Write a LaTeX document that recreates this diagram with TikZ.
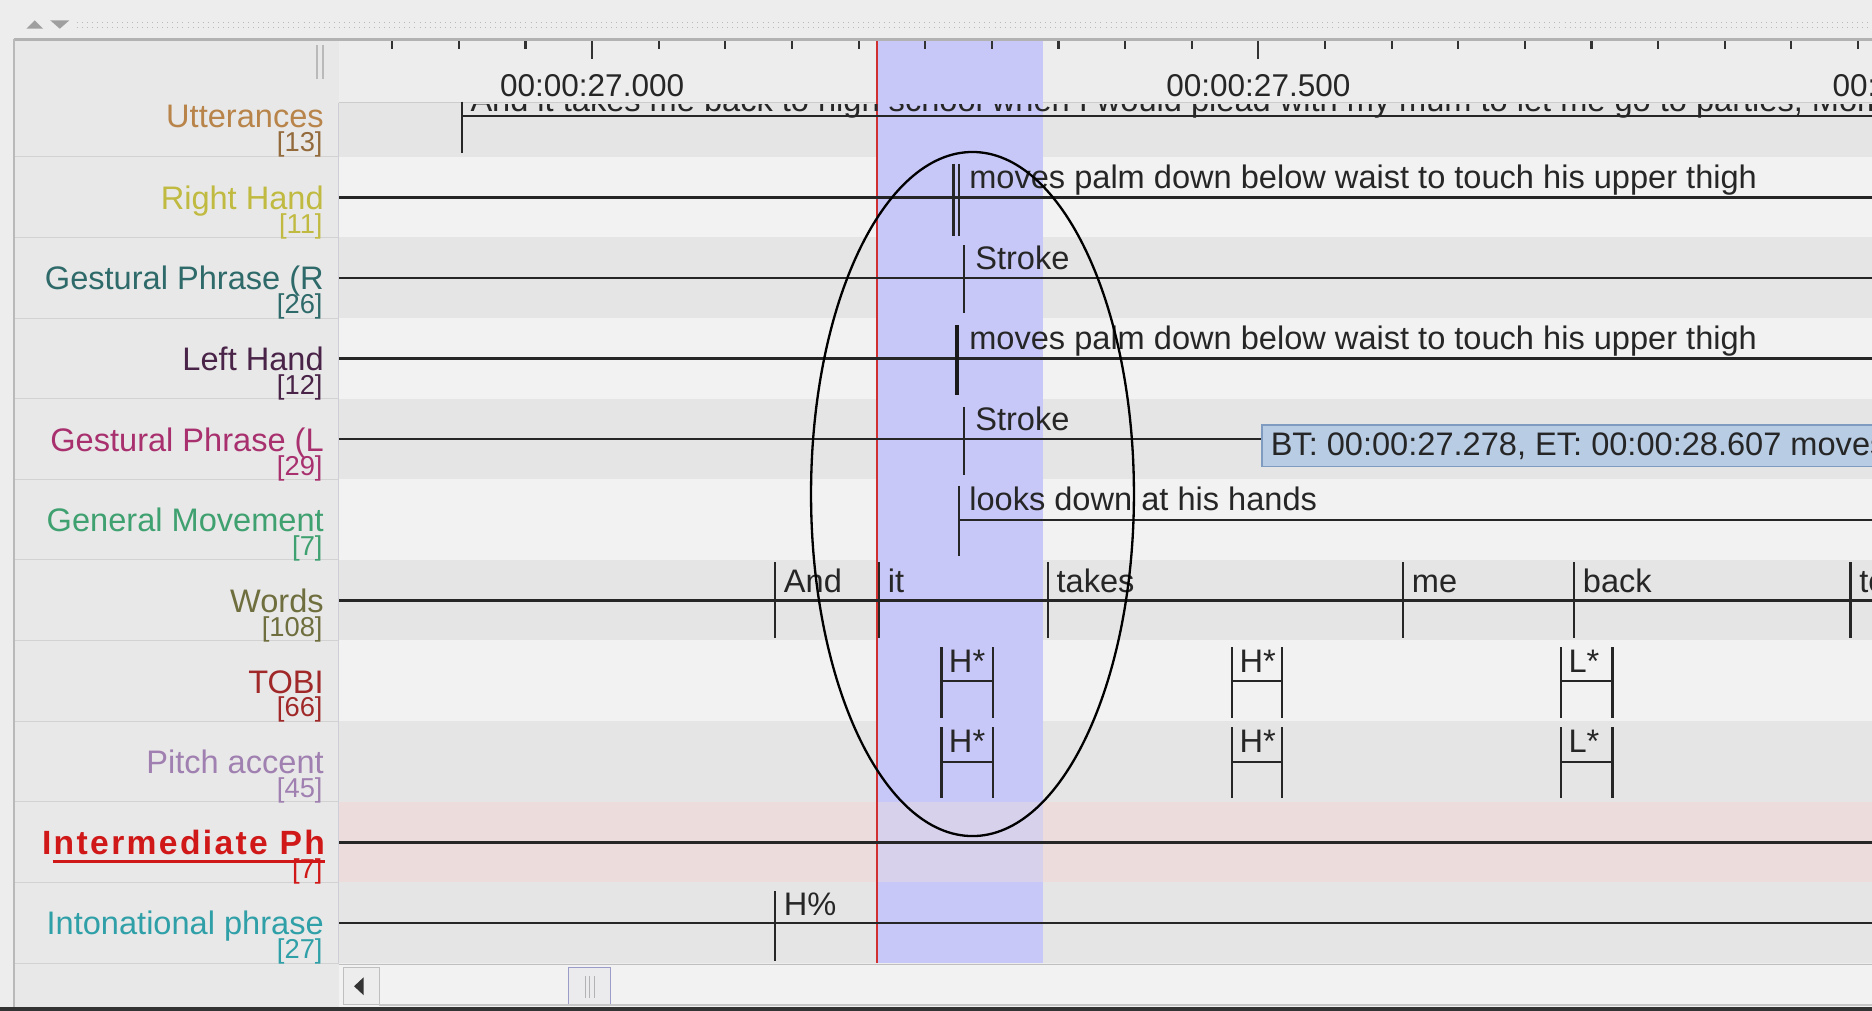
\documentclass[tikz,border=0pt]{standalone}
\usepackage{fontspec}
\setmainfont{Liberation Sans}
\definecolor{winbg}{HTML}{EDEDED}
\definecolor{panelbg}{HTML}{E8E8E8}
\definecolor{rowA}{HTML}{F2F2F2}
\definecolor{rowB}{HTML}{E5E5E5}
\definecolor{rowpink}{HTML}{ECDCDC}
\definecolor{selblue}{HTML}{C8C8F8}
\definecolor{crossred}{HTML}{D03030}
\definecolor{tipfill}{HTML}{B8CCE4}
\definecolor{tipline}{HTML}{7F9CC0}
\definecolor{uttcol}{HTML}{B8844A}
\definecolor{rhcol}{HTML}{C0BA40}
\definecolor{grcol}{HTML}{2F6A6A}
\definecolor{lhcol}{HTML}{4A2448}
\definecolor{glcol}{HTML}{A8306E}
\definecolor{gmcol}{HTML}{3FA070}
\definecolor{wdcol}{HTML}{6E6E3E}
\definecolor{tbcol}{HTML}{A02828}
\definecolor{pacol}{HTML}{A080B0}
\definecolor{ipcol}{HTML}{D01818}
\definecolor{incol}{HTML}{30A0A8}
\begin{document}
\begin{tikzpicture}[x=0.02cm,y=-0.02cm,
  tier/.style={line width=1.1pt, black!85},
  bound/.style={line width=1.1pt, black!85},
  anno/.style={anchor=base west, inner sep=0pt, font=\fontsize{15.5}{18}\selectfont, text=black!85},
  tiername/.style={anchor=base east, inner sep=0pt, font=\fontsize{15.5}{18}\selectfont},
  tiercount/.style={anchor=base east, inner sep=0pt, font=\fontsize{13}{15}\selectfont},
  timelabel/.style={anchor=base, inner sep=0pt, font=\fontsize{15}{17}\selectfont, text=black!85}]
\useasboundingbox (0,0) rectangle (1565,844.4);
\clip (0,0) rectangle (1565,844.4);
\fill [winbg] (0,0) rectangle (1565,844.4);
% top strip
\fill [gray!75] (22,24) -- (29,17) -- (36,24) -- cycle;
\fill [gray!75] (42,17) -- (58,17) -- (50,24) -- cycle;
\draw [gray!55, dotted] (64,19) -- (1565,19);
\draw [gray!55, dotted] (64,23) -- (1565,23);
% ruler and rows
\fill [winbg] (283,33) rectangle (1565,86);
\fill [rowB] (283,86) rectangle (1565,131);
\fill [rowA] (283,131) rectangle (1565,198.4);
\fill [rowB] (283,198.4) rectangle (1565,265.8);
\fill [rowA] (283,265.8) rectangle (1565,333.2);
\fill [rowB] (283,333.2) rectangle (1565,400.6);
\fill [rowA] (283,400.6) rectangle (1565,468);
\fill [rowB] (283,468) rectangle (1565,535.4);
\fill [rowA] (283,535.4) rectangle (1565,602.8);
\fill [rowB] (283,602.8) rectangle (1565,670.2);
\fill [rowpink] (283,670.2) rectangle (1565,737.6);
\fill [rowB] (283,737.6) rectangle (1565,805);
\draw [gray!40] (283,86) -- (1565,86);
% selection and crosshair
\fill [selblue] (734,33) rectangle (872,805);
\fill [rowpink, fill opacity=0.45] (734,670.2) rectangle (872,737.6);
\draw [crossred, line width=1pt] (733,33) -- (733,805);
% time ruler
\foreach \k in {0,...,22}
  \draw [black!80, line width=1pt] (327.9+55.7*\k,34) -- (327.9+55.7*\k,41);
\draw [black!80, line width=1pt] (495,34) -- (495,49);
\draw [black!80, line width=1pt] (1052,34) -- (1052,49);
\node [timelabel] (t27) at (495,81) {00:00:27.000};
\node [timelabel] (t275) at (1052,81) {00:00:27.500};
\node [timelabel] (t28) at (1609,81) {00:00:28.000};
% Utterances
\begin{scope}
\clip (283,87) rectangle (1565,131);
\node [anno] (utt) at (393,93) {And it takes me back to high school when I would plead with my mum to let me go to parties, Mom};
\end{scope}
\draw [tier] (386,97) -- (1565,97);
\draw [bound] (386,85) -- (386,128);
% Right Hand
\draw [tier] (283,165) -- (1565,165);
\draw [bound] (797,137) -- (797,197);
\draw [bound] (802,137) -- (802,197);
\node [anno] (rh) at (810,158) {moves palm down below waist to touch his upper thigh};
% Gestural Phrase (R
\draw [tier] (283,232.4) -- (1565,232.4);
\draw [bound] (806,205) -- (806,262);
\node [anno] (grs) at (815,225) {Stroke};
% Left Hand
\draw [tier] (283,299.8) -- (1565,299.8);
\draw [black!90, line width=2.2pt] (800,272) -- (800,330);
\node [anno] (lh) at (810,292) {moves palm down below waist to touch his upper thigh};
% Gestural Phrase (L
\draw [tier] (283,367.2) -- (1055,367.2);
\draw [bound] (806,340) -- (806,397);
\node [anno] (gls) at (815,360) {Stroke};
% General Movement
\draw [tier] (802,434.6) -- (1565,434.6);
\draw [bound] (802,406) -- (802,465);
\node [anno] (gm) at (810,427) {looks down at his hands};
% Words
\draw [tier] (283,502) -- (1565,502);
\foreach \x/\w [count=\n] in {648/And, 735/it, 876/takes, 1173/me, 1316/back, 1547/to} {
  \draw [bound] (\x,470) -- (\x,533);
  \node [anno] (word\n) at (\x+7,495) {\w};
}
% TOBI and Pitch accent
\foreach \xa/\xb/\lab [count=\n] in {787/830/H*, 1030/1072/H*, 1305/1348/L*} {
  \draw [bound] (\xa,541) -- (\xa,600);
  \draw [bound] (\xb,541) -- (\xb,600);
  \draw [bound] (\xa,569.4) -- (\xb,569.4);
  \node [anno] (tobi\n) at (\xa+6,562) {\lab};
  \draw [bound] (\xa,608) -- (\xa,667);
  \draw [bound] (\xb,608) -- (\xb,667);
  \draw [bound] (\xa,636.8) -- (\xb,636.8);
  \node [anno] (pitch\n) at (\xa+6,629) {\lab};
}
% Intermediate Ph
\draw [tier] (283,704.2) -- (1565,704.2);
% Intonational phrase
\draw [tier] (283,771.6) -- (1565,771.6);
\draw [bound] (648,745) -- (648,803);
\node [anno] (inp) at (655,765) {H\%};
% label panel
\fill [panelbg] (12,33) rectangle (283,843);
\foreach \y in {131,198.4,265.8,333.2,400.6,468,535.4,602.8,670.2,737.6,805}
  \draw [gray!35] (12,\y) -- (283,\y);
\draw [blue!10!gray!35] (283,86) -- (283,805);
\draw [gray!55, line width=0.8pt] (265,38) -- (265,66);
\draw [gray!55, line width=0.8pt] (270,38) -- (270,66);
\node [tiername, text=uttcol] (lutt) at (271,107) {Utterances};
\node [tiercount, text=uttcol!80!black] (cutt) at (270,127) {[13]};
\node [tiername, text=rhcol] (lrh) at (271,175) {Right Hand};
\node [tiercount, text=rhcol] (crh) at (270,195) {[11]};
\node [tiername, text=grcol] (lgr) at (271,242.4) {Gestural Phrase (R};
\node [tiercount, text=grcol] (cgr) at (270,262.4) {[26]};
\node [tiername, text=lhcol] (llh) at (271,309.8) {Left Hand};
\node [tiercount, text=lhcol] (clh) at (270,329.8) {[12]};
\node [tiername, text=glcol] (lgl) at (271,377.2) {Gestural Phrase (L};
\node [tiercount, text=glcol] (cgl) at (270,397.2) {[29]};
\node [tiername, text=gmcol] (lgm) at (271,444.6) {General Movement};
\node [tiercount, text=gmcol] (cgm) at (270,464.6) {[7]};
\node [tiername, text=wdcol] (lwd) at (271,512) {Words};
\node [tiercount, text=wdcol] (cwd) at (270,532) {[108]};
\node [tiername, text=tbcol] (ltb) at (271,579.4) {TOBI};
\node [tiercount, text=tbcol] (ctb) at (270,599.4) {[66]};
\node [tiername, text=pacol] (lpa) at (271,646.8) {Pitch accent};
\node [tiercount, text=pacol] (cpa) at (270,666.8) {[45]};
\node [tiername, text=ipcol, font=\fontsize{16}{18}\selectfont\bfseries\addfontfeatures{LetterSpace=7}] (lip) at (272,714.2) {Intermediate Ph};
\draw [ipcol, line width=1.2pt] (44,720) -- (272,720);
\node [tiercount, text=ipcol] (cip) at (270,734.2) {[7]};
\node [tiername, text=incol] (lin) at (271,781.6) {Intonational phrase};
\node [tiercount, text=incol] (cin) at (270,801.6) {[27]};
% frame
\draw [gray!60, line width=1.2pt] (12,33) -- (1565,33);
\draw [gray!55, line width=1pt] (12,33) -- (12,843);
% highlight ellipse
\draw [black, line width=1.1pt] (813,413) ellipse [x radius=2.7cm, y radius=5.72cm];
% tooltip
\draw [tipline, fill=tipfill, line width=0.9pt] (1055,355) rectangle (1575,390);
\node [anno] (tip) at (1062,381) {BT: 00:00:27.278, ET: 00:00:28.607 moves palm down};
% scroll bar
\fill [rowA] (283,806) rectangle (1565,842);
\draw [gray!50] (283,806) -- (1565,806);
\draw [gray!50, fill=winbg] (287,809) rectangle (317,840);
\fill [black!80] (296,824.5) -- (304,817) -- (304,832) -- cycle;
\draw [blue!30!gray!60, fill=blue!6!gray!15] (475,809) rectangle (510,840);
\foreach \x in {489,493,497}
  \draw [gray!60] (\x,816) -- (\x,834);
\draw [gray!45, line width=0.8pt] (317,840) -- (1565,840);
\draw [black!80, line width=1.5pt] (0,843.5) -- (1565,843.5);
\end{tikzpicture}
\end{document}
